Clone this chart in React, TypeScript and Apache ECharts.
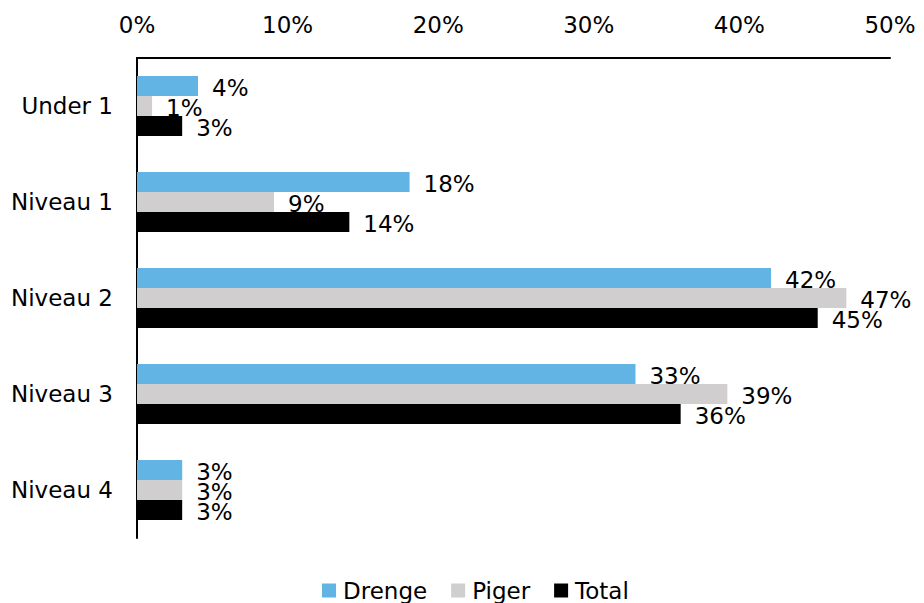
import React, { useEffect, useRef } from "react";
import * as echarts from "echarts";

const categories = ["Under 1", "Niveau 1", "Niveau 2", "Niveau 3", "Niveau 4"];
const drenge = [4.05, 18.1, 42.1, 33.1, 3.0];
const piger = [1.0, 9.1, 47.1, 39.2, 3.0];
const total = [3.0, 14.1, 45.2, 36.1, 3.0];
const seriesNames = ["Drenge", "Piger", "Total"];
const colors = ["#62b4e4", "#d0cece", "#000000"];
const xTicks = { min: 0, max: 50, interval: 10 };

const FONT = "DejaVu Sans";
const FS = 23;

export default function App() {
  const ref = useRef<HTMLDivElement>(null);
  useEffect(() => {
    if (!ref.current) return;
    const chart = echarts.init(ref.current, null, { renderer: "svg" });
    const data = [drenge, piger, total];
    chart.setOption({
      animation: false,
      textStyle: { fontFamily: FONT },
      grid: { left: 137, right: 34, top: 58, bottom: 65, containLabel: false },
      legend: {
        left: 317,
        top: 574,
        itemWidth: 14,
        itemHeight: 14,
        itemGap: 24,
        icon: "rect",
        textStyle: { fontFamily: FONT, fontSize: FS, color: "#000", padding: [0, 0, 0, 2] },
        data: seriesNames,
      },
      xAxis: {
        type: "value",
        position: "top",
        min: xTicks.min,
        max: xTicks.max,
        interval: xTicks.interval,
        axisLine: { show: true, lineStyle: { color: "#000", width: 2 } },
        axisTick: { show: false },
        splitLine: { show: false },
        axisLabel: {
          formatter: "{value}%",
          fontFamily: FONT,
          fontSize: FS,
          color: "#000",
          margin: 22,
        },
      },
      yAxis: {
        type: "category",
        data: categories,
        inverse: true,
        axisLine: { show: true, lineStyle: { color: "#000", width: 2 } },
        axisTick: { show: false },
        axisLabel: { fontFamily: FONT, fontSize: FS, color: "#000", margin: 24 },
      },
      series: seriesNames.map((name, i) => ({
        name,
        type: "bar",
        data: data[i],
        barGap: "0%",
        barCategoryGap: "37.5%",
        itemStyle: { color: colors[i] },
        label: {
          show: true,
          position: "right",
          distance: 14,
          offset: [0, 2],
          fontFamily: FONT,
          fontSize: FS,
          color: "#000",
          formatter: (p: any) => Math.round(p.value) + "%",
        },
      })),
    });
    return () => chart.dispose();
  }, []);
  return (
    <div
      ref={ref}
      style={{ position: "fixed", left: 0, top: 0, width: 924, height: 603, background: "#fff" }}
    />
  );
}
